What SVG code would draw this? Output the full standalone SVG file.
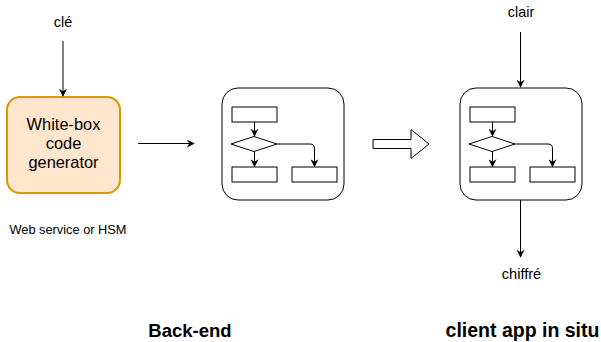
<svg xmlns="http://www.w3.org/2000/svg" width="601" height="342" viewBox="0 0 601 342">
  <style>
    .lbl { font-family: "Liberation Sans", Arial, sans-serif; fill: #000; text-anchor: middle; }
    .edge { fill: none; stroke: #000; stroke-width: 1; }
    .frame { fill: #fff; stroke: #000; stroke-width: 1; }
    .step { fill: #fff; stroke: #000; stroke-width: 1; }
  </style>
  <defs>
    <marker id="head" viewBox="0 0 10 10" refX="9" refY="5" markerWidth="8" markerHeight="8" markerUnits="userSpaceOnUse" orient="auto">
      <path d="M0,0 L10,5 L0,10 L3,5 Z" fill="#000"/>
    </marker>
    <!-- reusable mini flowchart drawn inside each process frame -->
    <g id="flow">
      <rect class="frame" x="0" y="0" width="122" height="112" rx="16"/>
      <rect class="step" x="10" y="19" width="45" height="15"/>
      <polygon class="step" points="9,56 32,48.5 55,56 32,63.5"/>
      <rect class="step" x="10" y="79" width="45" height="15"/>
      <rect class="step" x="70" y="79" width="45" height="15"/>
      <path class="edge" d="M32.5,34 V48" marker-end="url(#head)"/>
      <path class="edge" d="M32.5,63.5 V78.5" marker-end="url(#head)"/>
      <path class="edge" d="M55,56 H88 Q92.5,56 92.5,60.5 V78.5" marker-end="url(#head)"/>
    </g>
  </defs>

  <g id="generator">
    <rect x="7" y="97" width="113" height="96" rx="13" fill="#ffe6cc" stroke="#d79b00" stroke-width="2"/>
    <text class="lbl" x="63.5" y="130" font-size="16.4">White-box</text>
    <text class="lbl" x="63.5" y="149" font-size="16.4">code</text>
    <text class="lbl" x="63.5" y="168" font-size="16.4">generator</text>
  </g>

  <g id="key-label"><text class="lbl" x="63" y="27" font-size="14.4">clé</text></g>
  <g id="host-label"><text class="lbl" x="68" y="234" font-size="12.8">Web service or HSM</text></g>

  <g id="backend"><use href="#flow" x="222" y="88"/></g>
  <g id="client"><use href="#flow" x="460" y="88"/></g>

  <g id="plain-label"><text class="lbl" x="521" y="17" font-size="14.4">clair</text></g>
  <g id="cipher-label"><text class="lbl" x="521.5" y="279" font-size="14.6">chiffré</text></g>

  <g id="deploy-arrow">
    <polygon points="373,139.5 411,139.5 411,129.5 429,144 411,158.5 411,148.5 373,148.5" fill="#fff" stroke="#000" stroke-width="1"/>
  </g>

  <g id="titles">
    <text class="lbl" x="190" y="337" font-size="18.5" font-weight="bold">Back-end</text>
    <text class="lbl" x="522.5" y="337" font-size="19.5" font-weight="bold">client app in situ</text>
  </g>

  <g id="connectors">
    <path class="edge" d="M63,41 V96" marker-end="url(#head)"/>
    <path class="edge" d="M138,143.5 H194" marker-end="url(#head)"/>
    <path class="edge" d="M520.5,32 V87" marker-end="url(#head)"/>
    <path class="edge" d="M520.5,200 V257" marker-end="url(#head)"/>
  </g>
</svg>
